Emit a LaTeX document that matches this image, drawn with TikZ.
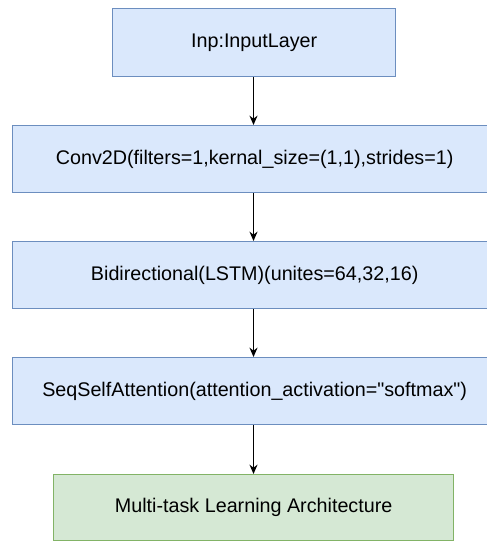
\documentclass[tikz,border=0pt]{standalone}
\usepackage{fontspec}
\setmainfont{Liberation Sans}[Ligatures=TeXOff]
\usetikzlibrary{arrows.meta}
\definecolor{bluefill}{HTML}{DAE8FC}
\definecolor{bluedraw}{HTML}{6C8EBF}
\definecolor{greenfill}{HTML}{D5E8D4}
\definecolor{greendraw}{HTML}{82B366}
\begin{document}
\begin{tikzpicture}[x=0.75pt,y=-0.75pt,
  layer/.style={draw=bluedraw,fill=bluefill,line width=1pt,inner sep=0pt,
    font=\fontsize{14.8}{17}\selectfont,anchor=north west},
  head/.style={layer,draw=greendraw,fill=greenfill},
  flow/.style={-{Stealth[length=7pt,width=6pt]},line width=1.3pt,black}]
\useasboundingbox (0,0) rectangle (486,541);
\node[layer,minimum width=283*0.75pt,minimum height=68*0.75pt] (inp) at (112,8) {Inp:InputLayer};
\node[layer,minimum width=484*0.75pt,minimum height=67*0.75pt] (conv) at (12,125) {Conv2D(filters=1,kernal\_size=(1,1),strides=1)};
\node[layer,minimum width=484*0.75pt,minimum height=67*0.75pt] (lstm) at (12,241) {Bidirectional(LSTM)(unites=64,32,16)};
\node[layer,minimum width=484*0.75pt,minimum height=67*0.75pt] (att) at (12,357) {SeqSelfAttention(attention\_activation="softmax")};
\node[head,minimum width=400*0.75pt,minimum height=66*0.75pt] (mtl) at (53,474) {Multi-task Learning Architecture};
\draw[flow] (inp.south -| 253.5,0) -- (conv.north -| 253.5,0);
\draw[flow] (conv.south -| 253.5,0) -- (lstm.north -| 253.5,0);
\draw[flow] (lstm.south -| 253.5,0) -- (att.north -| 253.5,0);
\draw[flow] (att.south -| 253.5,0) -- (mtl.north -| 253.5,0);
\end{tikzpicture}
\end{document}
